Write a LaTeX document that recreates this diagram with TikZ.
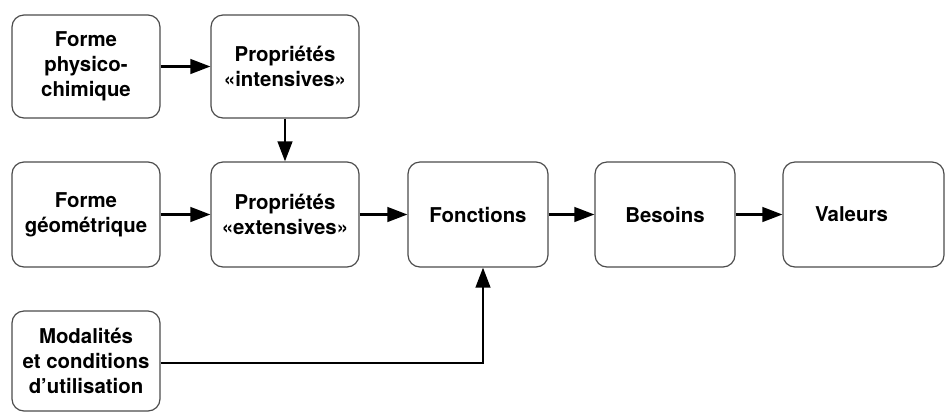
\documentclass[tikz,border=0pt]{standalone}
\usepackage{fontspec}
\setmainfont{TeX Gyre Heros}
\usetikzlibrary{arrows.meta}
\tikzset{
  box/.style={draw=black!70, line width=0.9pt, rounded corners=9pt, inner sep=0pt,
    align=center, font=\bfseries\fontsize{15.3pt}{18.7pt}\selectfont},
  arr/.style={line width=1.7pt, -{Triangle[length=15pt,width=11pt]}},
}
\begin{document}
\begin{tikzpicture}[x=0.75pt,y=-0.75pt]
\useasboundingbox (0,0) rectangle (945,412);
\node[box, minimum width=111pt, minimum height=77.25pt] (b1) at (86,66.5) {Forme\\physico-\\chimique};
\node[box, minimum width=111pt, minimum height=77.25pt] (b2) at (285,66.5) {Propriétés\\«intensives»};
\node[box, minimum width=111pt, minimum height=78.75pt] (b3) at (86,214.5) {Forme\\géométrique};
\node[box, minimum width=111pt, minimum height=78.75pt] (b4) at (285,214.5) {Propriétés\\«extensives»};
\node[box, minimum width=105pt, minimum height=78.75pt] (b5) at (478,214.5) {Fonctions};
\node[box, minimum width=105pt, minimum height=78.75pt] (b6) at (665,214.5) {Besoins};
\node[box, minimum width=120.75pt, minimum height=78.75pt, align=left, text width=72.75pt, inner xsep=24pt] (b7) at (863.5,214.5) {Valeurs};
\node[box, minimum width=111pt, minimum height=75pt] (b8) at (86,361) {Modalités\\et conditions\\d’utilisation};
\draw[arr] (b1.east) -- (b2.west);
\draw[arr] (b2.south) -- (b4.north);
\draw[arr] (b3.east) -- (b4.west);
\draw[arr] (b4.east) -- (b5.west);
\draw[arr] (b5.east) -- (b6.west);
\draw[arr] (b6.east) -- (b7.west);
\draw[arr] ([yshift=-1.5pt]b8.east) -| ([xshift=3.75pt]b5.south);
\end{tikzpicture}
\end{document}
